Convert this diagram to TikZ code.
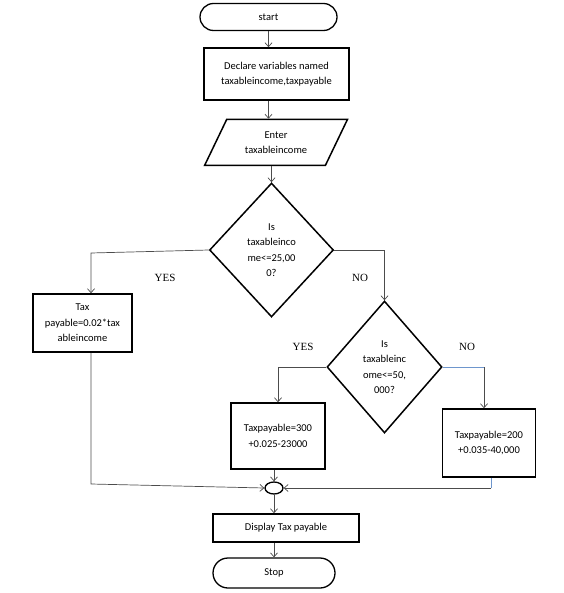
\documentclass[tikz,border=0pt]{standalone}
\usepackage{fontspec}
\setmainfont{Carlito}
\newfontfamily\yesnofont{Liberation Serif}
\usetikzlibrary{arrows.meta,shapes.geometric,shapes.misc}
\definecolor{lineblue}{RGB}{110,150,205}

\begin{document}
\begin{tikzpicture}[x=1pt,y=-1pt,
  font=\fontsize{10.5}{15.5}\selectfont,
  box/.style={draw, line width=1.5pt, inner sep=0pt, align=center},
  term/.style={box, rounded rectangle, line width=1.3pt},
  io/.style={box, trapezium, trapezium left angle=58, trapezium right angle=122,
             trapezium stretches=true},
  dec/.style={box, diamond},
  lbl/.style={font=\yesnofont\fontsize{11}{13}\selectfont},
  ln/.style={draw=black!70, line width=0.7pt},
  arr/.style={ln, -{Straight Barb[length=4pt,width=7pt]}}]
    \useasboundingbox (0,0) rectangle (563,593);

    \node[term, minimum width=137pt, minimum height=27pt] (start) at (268.5,17) {start};
    \node[box, minimum width=145pt, minimum height=52pt] (decl) at (276.5,74)
        {Declare variables named\\taxableincome,taxpayable};
    \node[io, minimum width=144pt, minimum height=46pt] (enter) at (276,142.5)
        {Enter\\taxableincome};
    \node[dec, minimum width=124pt, minimum height=134pt] (d1) at (271.5,250)
        {Is\\taxableinco\\me<=25,00\\0?};
    \node[box, minimum width=99pt, minimum height=58pt] (t1) at (82.5,323)
        {Tax\\payable=0.02*tax\\ableincome};
    \node[dec, minimum width=115pt, minimum height=132pt] (d2) at (384.5,367)
        {Is\\taxableinc\\ome<=50,\\000?};
    \node[box, minimum width=94pt, minimum height=66pt] (t2) at (278,436)
        {Taxpayable=300\\+0.025-23000};
    \node[box, minimum width=93pt, minimum height=68pt] (t3) at (489,443)
        {Taxpayable=200\\+0.035-40,000};
    \node[box, ellipse, minimum width=18pt, minimum height=12pt, line width=1.3pt]
        (junc) at (274,488) {};
    \node[box, minimum width=146pt, minimum height=28pt] (disp) at (286,528)
        {Display Tax payable};
    \node[term, minimum width=122pt, minimum height=30pt] (stop) at (274,573) {Stop};

    % branch labels
    \node[lbl] (yes1) at (165,278) {YES};
    \node[lbl] (no1) at (360,278) {NO};
    \node[lbl] (yes2) at (303,347) {YES};
    \node[lbl] (no2) at (467,347) {NO};

    % bends
    \coordinate (b1) at (91,253);
    \coordinate (b2) at (484,367);
    \coordinate (m1) at (91,484);
    \coordinate (m3) at (491,488);

    \draw[arr] (start.south) -- (start.south |- decl.north);
    \draw[arr] (decl.south -| start.south) -- (enter.north -| start.south);
    \draw[arr] (enter.south -| d1.north) -- (d1.north);
    \draw[arr] (d1.west) -- (b1) -- (b1 |- t1.north);
    \draw[arr] (d1.east) -| (d2.north);
    \draw[arr] (d2.west) -| (t2.north);
    \draw[ln, draw=lineblue] (d2.east) -- (b2);
    \draw[arr] (b2) -- (b2 |- t3.north);
    \draw[arr] (t1.south -| m1) -- (m1) -- (junc.west);
    \draw[arr] (junc.north |- t2.south) -- (junc.north);
    \draw[ln, draw=lineblue] (t3.south -| m3) -- (m3);
    \draw[arr] (m3) -- (junc.east);
    \draw[arr] (junc.south) -- (junc.south |- disp.north);
    \draw[arr] (disp.south -| stop.north) -- (stop.north);
\end{tikzpicture}
\end{document}
